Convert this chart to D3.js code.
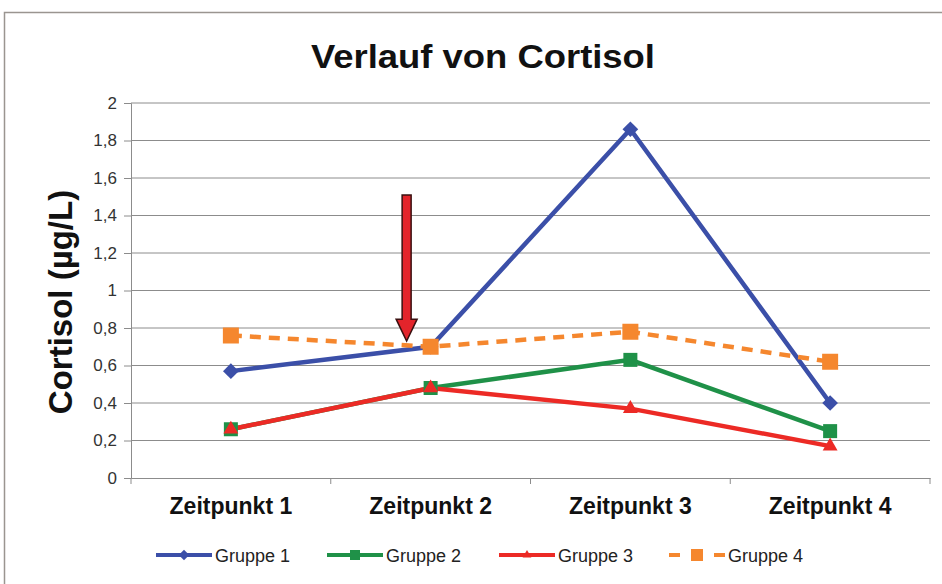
<!DOCTYPE html>
<html>
<head>
<meta charset="utf-8">
<script src="https://cdn.jsdelivr.net/npm/d3@7"></script>
<style>
 body{margin:0;background:#fff;}
 svg{display:block;font-family:"Liberation Sans",Arial,sans-serif;}
</style>
</head>
<body>
<svg id="chart" width="942" height="584"></svg>
<script>
// ---- data ----
const categories=["Zeitpunkt 1","Zeitpunkt 2","Zeitpunkt 3","Zeitpunkt 4"];
const gruppe1=[0.57,0.70,1.86,0.40];
const gruppe2=[0.26,0.48,0.63,0.25];
const gruppe3=[0.26,0.48,0.37,0.17];
const gruppe4=[0.76,0.70,0.78,0.62];
const yTicks=[0,0.2,0.4,0.6,0.8,1,1.2,1.4,1.6,1.8,2];
const arrowNote={cat:"Zeitpunkt 2",from:1.51,to:0.73};

const series=[
 {name:"Gruppe 1",values:gruppe1,color:"#3b4fa8",marker:"diamond",dash:null},
 {name:"Gruppe 2",values:gruppe2,color:"#1f9148",marker:"square",dash:null},
 {name:"Gruppe 3",values:gruppe3,color:"#ec2a25",marker:"triangle",dash:null},
 {name:"Gruppe 4",values:gruppe4,color:"#f5872e",marker:"square",dash:"11,8"}
];

const svg=d3.select("#chart");

// frame
svg.append("rect").attr("x",4.5).attr("y",12.5).attr("width",960).attr("height",600)
 .attr("fill","#fff").attr("stroke","#9a9590").attr("stroke-width",1.5);

const x=d3.scaleBand().domain(categories).range([131,930]);
const y=d3.scaleLinear().domain([0,2]).range([478,103]);
const cx=c=>x(c)+x.bandwidth()/2;

// gridlines
svg.append("g").selectAll("line").data(yTicks.filter(d=>d>0)).enter().append("line")
 .attr("x1",131).attr("x2",930)
 .attr("y1",d=>y(d)).attr("y2",d=>y(d))
 .attr("stroke","#8c8c8c").attr("stroke-width",1);

// axes
const yAxis=svg.append("g").attr("transform","translate(131,0)")
 .call(d3.axisLeft(y).tickValues(yTicks).tickSize(7).tickPadding(7)
  .tickFormat(d=>d3.format("~g")(d).replace(".",",")));
yAxis.select(".domain").attr("stroke","#8c8c8c");
yAxis.selectAll(".tick line").attr("stroke","#8c8c8c");
yAxis.selectAll("text").attr("font-size",17).attr("fill","#333")
 .attr("font-family","Liberation Sans, Arial, sans-serif");

const xAxis=svg.append("g").attr("transform","translate(0,478)")
 .call(d3.axisBottom(x).tickSize(0).tickPadding(20));
xAxis.select(".domain").attr("stroke","#8c8c8c");
xAxis.selectAll("text").attr("font-size",23).attr("font-weight","bold").attr("fill","#111")
 .attr("font-family","Liberation Sans, Arial, sans-serif");
// boundary ticks
svg.append("g").selectAll("line").data(categories.concat(["end"])).enter().append("line")
 .attr("x1",d=>d==="end"?x.range()[1]:x(d)).attr("x2",d=>d==="end"?x.range()[1]:x(d))
 .attr("y1",478).attr("y2",484).attr("stroke","#8c8c8c");

// markers
function marker(g,type,s,color){
 if(type==="diamond") g.append("path").attr("d",d3.symbol(d3.symbolDiamond2,s*s*0.7)()).attr("fill",color);
 else if(type==="square") g.append("rect").attr("x",-s/2).attr("y",-s/2).attr("width",s).attr("height",s).attr("fill",color);
 else g.append("path").attr("d",d3.symbol(d3.symbolTriangle2,s*s*0.55)()).attr("fill",color);
}

const line=d3.line().x((d,i)=>cx(categories[i])).y(d=>y(d));
const sizes={"Gruppe 1":15,"Gruppe 2":14,"Gruppe 3":17,"Gruppe 4":16};

series.forEach(s=>{
 svg.append("path").datum(s.values)
  .attr("d",line).attr("fill","none").attr("stroke",s.color)
  .attr("stroke-width",4.5).attr("stroke-dasharray",s.dash);
});
series.forEach(s=>{
 s.values.forEach((v,i)=>{
  const g=svg.append("g").attr("transform",`translate(${cx(categories[i])},${y(v)})`);
  marker(g,s.marker,sizes[s.name],s.color);
 });
});

// arrow annotation
const ax=cx(arrowNote.cat)-24, yTop=y(arrowNote.from), yTip=y(arrowNote.to);
const headH=22, shaftW=4.5, headW=10.5;
svg.append("path")
 .attr("d",`M${ax-shaftW},${yTop} L${ax+shaftW},${yTop} L${ax+shaftW},${yTip-headH} L${ax+headW},${yTip-headH} L${ax},${yTip} L${ax-headW},${yTip-headH} L${ax-shaftW},${yTip-headH} Z`)
 .attr("fill","#e3242b").attr("stroke","#3a1010").attr("stroke-width",1.5);

// titles
svg.append("text").attr("x",483).attr("y",68).attr("text-anchor","middle")
 .attr("font-size",34).attr("font-weight","bold").attr("fill","#111")
 .attr("textLength",344).attr("lengthAdjust","spacingAndGlyphs")
 .text("Verlauf von Cortisol");
svg.append("text").attr("transform","translate(72,302) rotate(-90)").attr("text-anchor","middle")
 .attr("font-size",33).attr("font-weight","bold").attr("fill","#111")
 .text("Cortisol (µg/L)");

// legend
const legX=[156,327,499,669];
series.forEach((s,i)=>{
 const g=svg.append("g").attr("transform",`translate(${legX[i]},555)`);
 if(s.dash){
  g.append("line").attr("x1",0).attr("x2",56).attr("y1",0).attr("y2",0)
   .attr("stroke",s.color).attr("stroke-width",4).attr("stroke-dasharray","11,11,12,11,11");
 }else{
  g.append("line").attr("x1",0).attr("x2",56).attr("y1",0).attr("y2",0)
   .attr("stroke",s.color).attr("stroke-width",4);
 }
 const m=g.append("g").attr("transform","translate(28,0)");
 marker(m,s.marker,s.dash?12:10,s.color);
 g.append("text").attr("x",59).attr("y",6.5).attr("font-size",18).attr("fill","#222").text(s.name);
});
</script>
</body>
</html>
